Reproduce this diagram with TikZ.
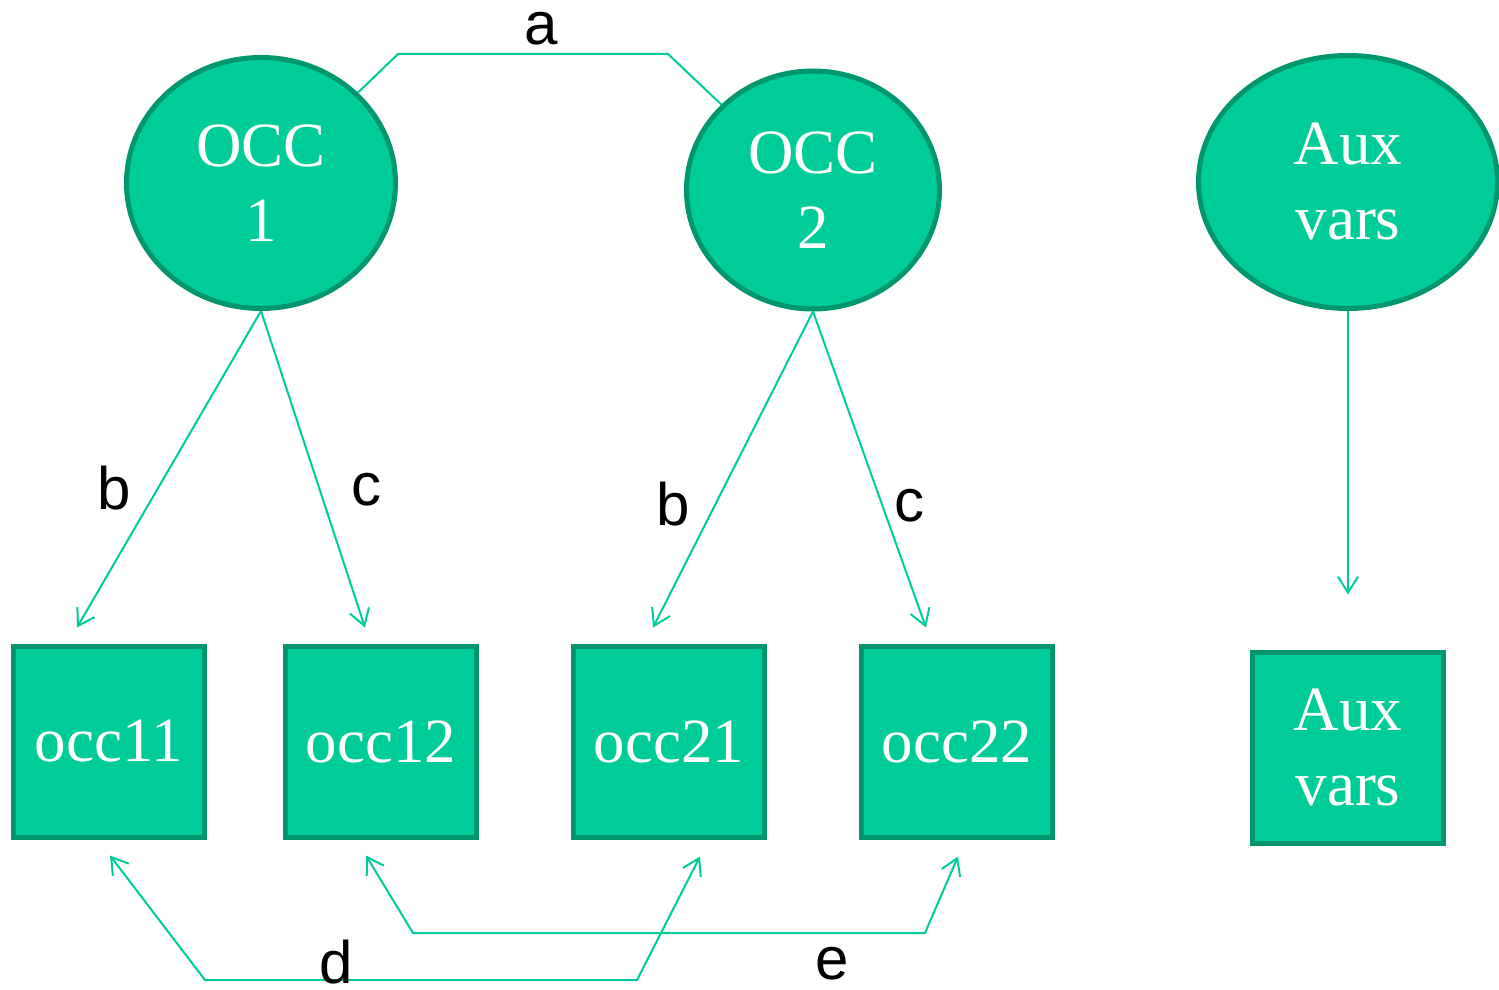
\documentclass[tikz,border=0pt]{standalone}
\usepackage{fontspec}
\setmainfont{Liberation Serif}
\newfontfamily\labelfont{Liberation Sans}
\usetikzlibrary{shapes.geometric,arrows.meta,calc}

\definecolor{occfill}{RGB}{0,204,153}
\definecolor{occedge}{RGB}{0,150,110}

\tikzset{every picture/.style={line width=1pt}}
\tikzset{
  latent/.style={ellipse, draw=occedge, fill=occfill, line width=2.5pt, inner sep=0pt,
    text=white, align=center, font=\fontsize{31.5}{37.5}\selectfont},
  manifest/.style={rectangle, draw=occedge, fill=occfill, line width=2.5pt, inner sep=0pt,
    minimum width=95.5pt, minimum height=95.5pt,
    text=white, align=center, font=\fontsize{31.5}{37.5}\selectfont},
  path/.style={draw=occfill, line width=1pt},
  load/.style={path, -{Straight Barb[length=8pt,width=10pt]}},
  cov/.style={path, {Straight Barb[length=8pt,width=10pt]}-{Straight Barb[length=8pt,width=10pt]}},
  lbl/.style={text=black, inner sep=0pt, font=\labelfont\fontsize{30}{34}\selectfont}
}

\begin{document}
\begin{tikzpicture}[x=0.5pt,y=0.5pt,yscale=-1,xscale=1]
	\useasboundingbox (0,0) rectangle (1499,990);

	%Latent variables
	\node [latent, minimum width=134.5pt, minimum height=125.5pt] (o1) at (261,183) {OCC\\1};
	\node [latent, minimum width=126.5pt, minimum height=119pt] (o2) at (813,190) {OCC\\2};
	\node [latent, minimum width=149.5pt, minimum height=126.5pt] (ax) at (1348,182) {Aux\\vars};

	%Indicators
	\node [manifest] (b11) at (109,741.5) {occ11};
	\node [manifest] (b12) at (381,741.5) {occ12};
	\node [manifest] (b21) at (669,741.5) {occ21};
	\node [manifest] (b22) at (957,741.5) {occ22};
	\node [manifest] (bax) at (1348,747.5) {Aux\\vars};

	%Covariance between factors
	\draw [path] (o1.43) -- (398,54) -- (668,54) -- (o2.137);

	%Loadings
	\draw [load] (o1.south) -- ($(b11.north)+(-32,-16)$);
	\draw [load] (o1.south) -- ($(b12.north)+(-16,-16)$);
	\draw [load] (o2.south) -- ($(b21.north)+(-16,-16)$);
	\draw [load] (o2.south) -- ($(b22.north)+(-31,-16)$);
	\draw [load] (ax.south) -- ($(bax.north)+(0,-55)$);

	%Residual covariances
	\draw [cov] ($(b11.south)+(1,16)$) -- (205,980) -- (637,980) -- ($(b21.south)+(31,17)$);
	\draw [cov] ($(b12.south)+(-15,16)$) -- (413,933) -- (925,933) -- ($(b22.south)+(1,17)$);

	% Text Node
	\node [lbl] (la) at (541,29) {a};
	% Text Node
	\node [lbl] (lb1) at (114,488) {b};
	% Text Node
	\node [lbl] (lc1) at (366,490) {c};
	% Text Node
	\node [lbl] (lb2) at (673,504) {b};
	% Text Node
	\node [lbl] (lc2) at (909,506) {c};
	% Text Node
	\node [lbl] (ld) at (336,962) {d};
	% Text Node
	\node [lbl] (le) at (832,964) {e};

\end{tikzpicture}
\end{document}
